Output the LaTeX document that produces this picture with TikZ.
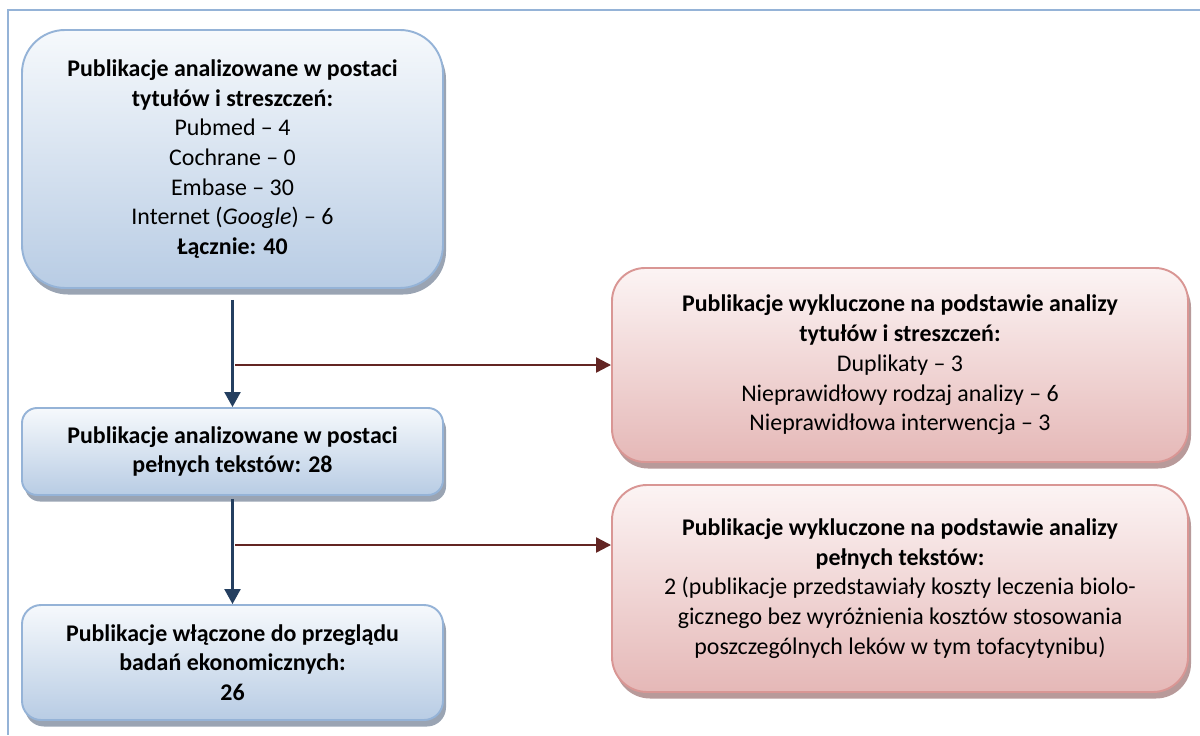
\documentclass[tikz,border=0pt]{standalone}
\usepackage{fontspec}
\setmainfont{Carlito}
\usepackage{xcolor}
\usepackage{tikz}
\usetikzlibrary{arrows.meta}
\usetikzlibrary{shadows}

\definecolor{blueTop}{HTML}{F6F9FC}
\definecolor{blueBot}{HTML}{B8CCE4}
\definecolor{blueLine}{HTML}{95B3D7}
\definecolor{blueShade}{HTML}{9AA4B3}
\definecolor{redTop}{HTML}{FCF4F4}
\definecolor{redBot}{HTML}{E5B8B7}
\definecolor{redLine}{HTML}{D99694}
\definecolor{redShade}{HTML}{B89A9A}
\definecolor{arrBlue}{HTML}{243F60}
\definecolor{arrRed}{HTML}{632523}

\tikzset{
  boxtext/.style={align=center, inner sep=0pt, line width=1.1pt,
    font=\fontsize{13.6}{16.9}\selectfont},
  bluebox/.style={boxtext, draw=blueLine, rounded corners=#1,
    top color=blueTop, bottom color=blueBot,
    drop shadow={shadow xshift=0.06cm, shadow yshift=-0.13cm, fill=blueShade, opacity=1}},
  redbox/.style={boxtext, draw=redLine, rounded corners=#1,
    top color=redTop, bottom color=redBot,
    drop shadow={shadow xshift=0.06cm, shadow yshift=-0.13cm, fill=redShade, opacity=1}},
  flowdown/.style={draw=arrBlue, line width=1.3pt, -{Triangle[length=0.3cm,width=0.32cm]}},
  flowout/.style={draw=arrRed, line width=1.3pt, -{Triangle[length=0.3cm,width=0.3cm]}},
}

\begin{document}
\begin{tikzpicture}
        % frame and page size
        \useasboundingbox (0,0) rectangle (24,-14.7);
        \draw[blueLine, line width=1.4pt] (24,-0.2) -- (0.16,-0.2) -- (0.16,-14.7);

        % left column
        \node[bluebox=0.86cm, minimum width=8.42cm, minimum height=5.16cm] (titles) at (4.65,-3.18)
          {\textbf{Publikacje analizowane w postaci}\\
           \textbf{tytułów i streszczeń:}\\
           Pubmed – 4\\
           Cochrane – 0\\
           Embase – 30\\
           Internet (\textit{Google}) – 6\\
           \textbf{Łącznie: 40}};
        \node[bluebox=0.3cm, minimum width=8.42cm, minimum height=1.74cm] (fulltext) at (4.65,-9.03)
          {\textbf{Publikacje analizowane w postaci}\\
           \textbf{pełnych tekstów: 28}};
        \node[bluebox=0.38cm, minimum width=8.42cm, minimum height=2.3cm] (included) at (4.65,-13.25)
          {\textbf{Publikacje włączone do przeglądu}\\
           \textbf{badań ekonomicznych:}\\
           \textbf{26}};

        % right column
        \node[redbox=0.66cm, minimum width=11.52cm, minimum height=3.88cm] (exclA) at (18,-7.3)
          {\textbf{Publikacje wykluczone na podstawie analizy}\\
           \textbf{tytułów i streszczeń:}\\
           Duplikaty – 3\\
           Nieprawidłowy rodzaj analizy – 6\\
           Nieprawidłowa interwencja – 3};
        \node[redbox=0.7cm, minimum width=11.52cm, minimum height=4.14cm] (exclB) at (18,-11.77)
          {\textbf{Publikacje wykluczone na podstawie analizy}\\
           \textbf{pełnych tekstów:}\\
           2 (publikacje przedstawiały koszty leczenia biolo-\\
           gicznego bez wyróżnienia kosztów stosowania\\
           poszczególnych leków w tym tofacytynibu)};

        \coordinate (split1) at (4.65,-7.3);
        \coordinate (split2) at (4.65,-10.9);

        \draw[flowdown, shorten <=0.22cm] (titles) -- (fulltext);
        \draw[flowdown, shorten <=0.06cm] (fulltext) -- (included);
        \draw[flowout, shorten <=0.05cm] (split1) -- (exclA.west);
        \draw[flowout, shorten <=0.05cm] (split2) -- (split2 -| exclB.west);
    \end{tikzpicture}
\end{document}
